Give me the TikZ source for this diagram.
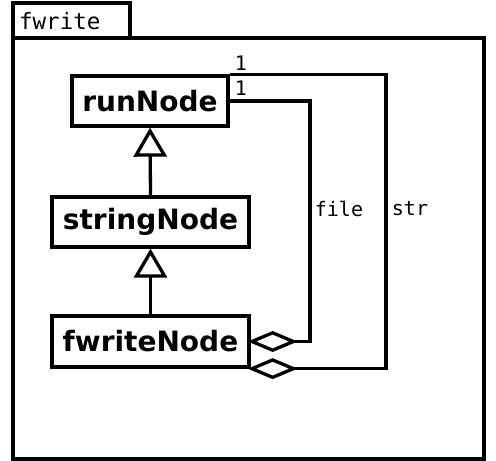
\documentclass[tikz,border=0pt]{standalone}
\usepackage{fontspec}
\setsansfont{DejaVu Sans}
\setmonofont{DejaVu Sans Mono}
\usetikzlibrary{arrows.meta}
\begin{document}
\begin{tikzpicture}[x=1pt,y=-1pt,line width=3.3pt,
  cls/.style={draw,fill=white,inner sep=0pt,font=\sffamily\bfseries\fontsize{28}{30}\selectfont},
  lbl/.style={font=\ttfamily\fontsize{20}{22}\selectfont,inner sep=0pt},
  inh/.style={-{Triangle[open,length=29pt,width=33pt,fill=white]}},
  agg/.style={{Diamond[open,length=50pt,width=21pt,fill=white]}-,shorten <=-3pt},
  ]
\useasboundingbox (0,0) rectangle (496,461);
\draw (13,3) rectangle (130,38);
\draw (13,38) rectangle (484,459);
\node[lbl,font=\ttfamily\fontsize{22.5}{24}\selectfont,anchor=west] (pkg) at (17.5,21) {fwrite};
\node[cls,minimum width=156pt,minimum height=50pt] (run) at (150,101) {runNode};
\node[cls,minimum width=197pt,minimum height=50pt] (str) at (150.5,222) {stringNode};
\node[cls,minimum width=197pt,minimum height=51pt] (fw) at (150.5,341.5) {fwriteNode};
\draw[inh] (str.north) -- (run.south);
\draw[inh] (fw.north) -- (str.south);
\coordinate (fx) at (310,200);
\coordinate (sx) at (386,200);
\draw[agg] (fw.east) -| (fx) |- (run.east);
\draw[agg] (fw.south east) -| (sx) |- (run.north east);
\node[lbl] (lfile) at (339,209) {file};
\node[lbl] (lstr) at (410,209) {str};
\node[lbl] (m1) at (241,63) {1};
\node[lbl] (m2) at (241,88) {1};
\end{tikzpicture}
\end{document}
